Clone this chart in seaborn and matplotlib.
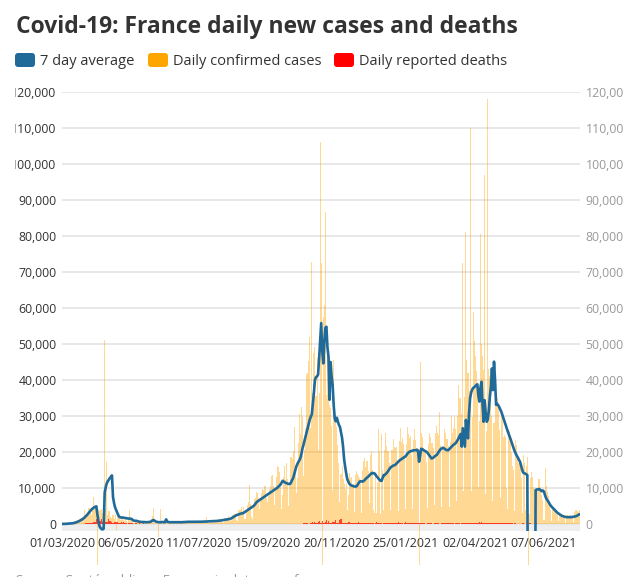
import matplotlib
matplotlib.use("Agg")
import matplotlib.pyplot as plt
import matplotlib.patches as mpatches
from matplotlib.transforms import IdentityTransform, Bbox, TransformedBbox
from matplotlib.ticker import FuncFormatter
import pandas as pd
import seaborn as sns

# Daily series starting 01/03/2020 (one value per day), cases/avg in thousands
avg_7day = [
    # Mar 2020
    0.02, 0.02, 0.03, 0.04, 0.05, 0.07, 0.09, 0.11, 0.13, 0.16, 0.2, 0.25, 0.3, 0.4, 0.5, 0.62,
    0.75, 0.9, 1.05, 1.2, 1.4, 1.65, 1.9, 2.2, 2.5, 2.85, 3.2, 3.55, 3.9, 4.2, 4.45,
    # Apr 2020
    4.65, 4.8, 4.9, 2.6, 0.9, -0.6, -1.1, -1.4, -1.5, -1.3, 8.8, 10.2, 11.3, 11.9, 12.3, 12.8,
    13.1, 13.5, 7.5, 5.8, 4.6, 3.9, 3.2, 2.5, 2.0, 1.85, 1.8, 1.8, 1.75, 1.7,
    # May 2020
    1.65, 1.6, 1.55, 1.5, 1.5, 1.45, 1.4, 1.05, 0.95, 0.9, 0.9, 0.85, 0.75, 0.65, 0.6, 0.6,
    0.55, 0.55, 0.55, 0.5, 0.5, 0.5, 0.55, 0.55, 0.6, 0.8, 1.0, 1.1, 0.9, 0.7, 0.6,
    # Jun 2020
    0.55, 0.5, 0.5, 0.5, 0.55, 0.55, 0.5, 0.5, 1.3, 0.7, 0.55, 0.5, 0.5, 0.5, 0.5, 0.5,
    0.5, 0.5, 0.5, 0.5, 0.5, 0.5, 0.5, 0.5, 0.5, 0.55, 0.55, 0.55, 0.6, 0.6,
    # Jul 2020
    0.6, 0.6, 0.6, 0.6, 0.6, 0.6, 0.6, 0.6, 0.6, 0.6, 0.62, 0.63, 0.65, 0.65, 0.65, 0.65,
    0.68, 0.7, 0.7, 0.72, 0.75, 0.75, 0.78, 0.8, 0.8, 0.82, 0.85, 0.85, 0.88, 0.9, 0.95,
    # Aug 2020
    1.0, 1.05, 1.1, 1.15, 1.2, 1.25, 1.3, 1.35, 1.4, 1.5, 1.65, 1.8, 2.0, 2.2, 2.35, 2.5,
    2.6, 2.7, 2.8, 2.9, 2.95, 3.0, 3.2, 3.4, 3.6, 3.8, 4.0, 4.2, 4.4, 4.6, 4.8,
    # Sep 2020
    5.0, 5.3, 5.7, 6.1, 6.3, 6.5, 6.7, 6.9, 7.1, 7.3, 7.5, 7.7, 7.9, 8.1, 8.3, 8.5,
    8.7, 8.9, 9.1, 9.3, 9.5, 9.7, 9.9, 10.1, 10.4, 10.7, 11.0, 11.5, 12.0, 11.8,
    # Oct 2020
    11.6, 11.4, 11.3, 11.2, 11.1, 11.1, 11.5, 12.2, 12.7, 13.8, 15.0, 15.9, 16.6, 17.2, 17.7, 18.3,
    19.5, 21.0, 22.0, 23.2, 24.4, 25.5, 26.6, 27.8, 29.0, 29.8, 30.5, 33.5, 36.5, 40.0, 40.8,
    # Nov 2020
    41.0, 41.5, 46.0, 51.0, 55.8, 48.0, 44.6, 50.5, 54.5, 54.8, 49.0, 46.5, 34.5, 45.0, 41.0, 38.5,
    33.0, 29.4, 28.5, 29.5, 28.5, 27.5, 27.0, 25.5, 24.0, 21.5, 18.0, 15.9, 14.1, 12.5,
    # Dec 2020
    11.8, 11.2, 10.9, 10.7, 10.6, 10.5, 10.4, 10.4, 10.5, 10.9, 11.4, 11.8, 11.9, 11.8, 11.8, 12.0,
    12.3, 12.6, 12.9, 13.1, 13.4, 13.7, 14.0, 14.2, 14.1, 14.1, 13.8, 13.3, 13.0, 12.6, 12.3,
    # Jan 2021
    12.0, 12.0, 12.8, 13.6, 13.6, 13.9, 14.2, 14.6, 15.0, 15.5, 15.8, 16.0, 16.2, 16.3, 16.4, 16.7,
    17.0, 17.3, 17.6, 17.8, 18.0, 18.2, 18.4, 18.6, 18.8, 19.2, 19.6, 19.9, 20.1, 20.2, 20.3,
    # Feb 2021
    20.4, 20.5, 20.5, 20.5, 20.6, 20.4, 17.3, 19.0, 20.9, 20.8, 20.6, 20.4, 20.2, 20.1, 19.8, 19.4,
    19.0, 18.6, 18.2, 18.3, 18.5, 18.8, 19.0, 19.2, 19.6, 20.1, 20.5, 20.9,
    # Mar 2021
    21.0, 21.2, 21.0, 20.8, 20.6, 20.5, 20.5, 20.8, 21.1, 21.4, 21.7, 22.0, 22.2, 22.4, 22.8, 23.3,
    23.9, 24.5, 25.0, 21.5, 26.6, 24.0, 21.5, 28.9, 26.0, 23.8, 30.5, 34.9, 36.5, 37.3, 37.8,
    # Apr 2021
    38.0, 38.3, 38.6, 38.8, 35.5, 34.0, 38.0, 39.5, 33.0, 28.4, 34.4, 31.0, 28.4, 29.0, 31.5, 35.4,
    38.0, 43.2, 37.2, 45.1, 40.0, 33.1, 33.4, 33.0, 32.5, 31.8, 31.2, 30.3, 29.4, 28.4,
    # May 2021
    27.5, 26.7, 25.9, 25.1, 24.3, 23.5, 22.6, 21.7, 20.9, 20.1, 19.5, 18.9, 18.4, 17.8, 17.3, 16.2,
    15.1, 14.3, 14.1, 14.0, 13.8, 13.6, -51, -51, -51, -51, -51, -51, -51, 9.4, 9.6,
    # Jun 2021
    9.6, 9.7, 9.6, 9.3, 9.1, 9.3, 9.0, 8.0, 7.2, 6.7, 6.3, 5.8, 5.3, 4.9, 4.6, 4.3,
    4.0, 3.7, 3.4, 3.1, 2.9, 2.7, 2.5, 2.3, 2.2, 2.1, 2.0, 1.95, 1.9, 1.9,
    # Jul 2021
    1.9, 1.9, 1.9, 1.95, 2.0, 2.05, 2.1, 2.2, 2.35, 2.5, 2.7,
]

daily_cases = [
    # Mar 2020
    0.03, 0.04, 0.02, 0.07, 0.06, 0.1, 0.3, 0.08, 0.1, 0.3, 0.5, 0.6, 0.8, 0.8, 0.9, 1.2,
    0.5, 1.4, 1.6, 1.6, 1.8, 1.8, 3.8, 2.4, 2.5, 4.5, 4.5, 3.8, 2.6, 4.4, 7.6,
    # Apr 2020
    5.0, 4.3, 5.2, -11.4, 4.0, 3.5, 3.8, 4.3, 3.0, 2.7, 51.0, 4.2, 17.3, 2.5, 3.7, 3.5,
    2.0, 1.6, 2.4, 1.3, 2.8, -1.8, 2.2, 1.6, 1.7, 1.1, 1.4, 1.5, 1.0, 0.9,
    # May 2020
    1.4, 0.9, 0.6, 1.3, 3.9, 1.1, 0.9, 0.6, 0.4, 0.5, 1.0, 0.8, 0.7, 0.6, 0.3, 0.5,
    0.7, 0.5, 0.6, 0.5, 0.3, 0.2, 0.4, 0.6, 0.5, 1.4, 2.2, 4.4, 0.4, 0.3, 0.4,
    # Jun 2020
    0.3, -3.5, 0.6, 4.2, 0.6, 0.5, 0.4, 0.3, 1.0, 0.5, 0.4, 0.6, 0.5, 0.4, 0.3, 0.2,
    0.5, 0.5, 0.6, 0.4, 0.3, 0.3, 0.6, 0.7, 0.6, 0.7, 0.5, 0.3, 0.4, 0.8,
    # Jul 2020
    0.5, 0.8, 0.7, 0.6, 0.6, 0.5, 0.3, 0.7, 0.8, 0.9, 0.7, 0.6, 0.4, 0.4, 0.8, 0.7,
    0.9, 2.0, 0.6, 0.4, 0.3, 1.0, 1.1, 1.0, 0.9, 0.7, 0.5, 0.6, 1.4, 1.3, 1.4,
    # Aug 2020
    1.3, 0.5, 0.4, 1.6, 1.7, 1.6, 1.6, 2.2, 1.0, 0.8, 1.4, 2.5, 2.6, 2.8, 2.9, 1.0,
    0.9, 3.8, 3.8, 4.8, 3.6, 4.6, 1.4, 1.5, 3.3, 5.4, 6.1, 10.8, 5.5, 2.0, 1.4,
    # Sep 2020
    5.0, 7.0, 7.2, 8.9, 8.5, 7.1, 4.2, 6.5, 8.6, 9.8, 9.4, 10.6, 7.2, 6.2, 7.9, 9.8,
    10.6, 13.2, 13.5, 10.6, 5.3, 10.0, 13.1, 16.1, 15.8, 14.4, 11.1, 4.1, 8.0, 13.0,
    # Oct 2020
    16.1, 12.1, 17.0, 12.6, 5.1, 10.5, 18.7, 18.1, 20.3, 26.9, 16.1, 8.5, 12.9, 22.6, 30.6, 25.1,
    32.4, 29.8, 13.2, 20.5, 26.7, 41.6, 42.0, 45.4, 52.0, 26.8, 72.9, 36.4, 47.6, 49.2, 35.6,
    # Nov 2020
    46.0, 20.5, 36.3, 106.0, 72.4, -11.4, 57.6, 60.8, 86.6, 35.9, 49.9, 45.0, 33.0, 32.1, 27.2, 9.4,
    45.5, 31.0, 28.0, 27.0, 22.0, 17.0, 6.0, 14.0, 16.0, 12.5, 11.0, 9.8, 11.0, 4.0,
    # Dec 2020
    8.0, 14.1, 12.7, 13.0, 11.2, 11.1, 3.4, 13.7, 14.6, 13.8, 13.4, 12.9, 11.5, 3.1, 14.9, 17.6,
    18.3, 15.7, 17.6, 14.7, 5.9, 19.3, 20.3, 15.0, 4.0, 3.1, 13.6, 3.1, 11.4, 26.5, 20.3,
    # Jan 2021
    2.9, 24.9, 15.1, 4.0, 20.5, 25.4, 21.7, 20.2, 20.2, 16.9, 3.8, 20.5, 23.6, 21.3, 21.2, 21.4,
    16.6, 3.7, 23.0, 26.8, 22.8, 23.9, 22.1, 18.3, 4.2, 22.1, 26.9, 25.0, 23.8, 24.4, 19.2,
    # Feb 2021
    4.3, 23.3, 26.4, 23.4, 21.0, 20.6, -11.4, 45.0, 25.4, 24.1, 21.0, 20.7, 19.8, 17.3, 4.4, 22.2,
    25.3, 24.1, 22.5, 22.4, 21.2, 5.4, 25.3, 27.3, 25.4, 24.8, 31.2, 22.0,
    # Mar 2021
    4.6, 20.6, 26.3, 25.3, 23.5, 23.5, 21.8, 4.7, 22.9, 29.9, 25.2, 26.8, 29.8, 26.4, 6.5, 29.9,
    38.5, 34.9, 35.1, 30.6, 72.6, 9.1, 35.4, 81.0, 45.6, 41.9, 37.0, 109.9, 9.1, 29.6, 59.0,
    # Apr 2021
    50.7, 46.7, 42.6, 37.0, 10.4, 28.5, 80.6, 50.1, 46.8, 42.9, 97.0, 8.3, 25.7, 118.0, 43.1, 41.2,
    35.9, 30.0, 6.3, 28.0, 38.2, 35.1, 34.9, 32.3, 26.0, 7.1, 30.3, 30.1, 24.3, 24.8,
    # May 2021
    24.3, 9.9, 4.1, 26.0, 25.7, 23.8, 19.9, 16.0, 14.9, 3.6, 23.3, 21.9, 19.2, 17.0, 15.6, 12.9,
    3.0, 19.3, 17.0, 3.8, 16.2, 18.7, -11.4, 2.7, 12.8, 14.5, 13.1, 10.4, 9.6, 8.5, 1.8,
    # Jun 2021
    9.2, 12.5, 12.6, 10.3, 8.0, 6.8, 1.2, 15.5, 10.5, 9.0, 7.9, 6.5, 3.9, 0.8, 4.1, 4.1,
    3.7, 3.3, 2.8, 2.5, 0.7, 2.9, 2.8, 2.3, 2.3, 1.9, 1.7, 0.4, 2.4, 2.4,
    # Jul 2021
    2.2, 2.4, 2.2, 1.8, 0.6, 3.2, 3.8, 3.9, 3.5, 3.4, 4.0,
]

daily_deaths = [
    # Mar 2020
    0, 0, 0, 1, 1, 2, 2, 1, 3, 6, 10, 15, 13, 18, 12, 36, 21, 27, 69, 128, 78, 112, 112, 186,
    240, 231, 365, 299, 319, 292, 418,
    # Apr 2020
    499, 509, 1355, 1120, 1053, 518, 833, 1417, 541, 1341, 987, 635, 561, 574, 1438, 753, 761,
    642, 395, 547, 531, 544, 516, 389, 369, 242, 437, 367, 427, 289,
    # May 2020
    218, 166, 135, 306, 330, 278, 178, 243, 80, 70, 263, 348, 83, 351, 104, 96, 125, 483, 131,
    66, 83, 74, 43, 35, 65, 90, 98, 52, 57, 52, 31,
    # Jun 2020
    31, 107, 81, 44, 46, 27, 13, 18, 24, 111, 27, 28, 24, 10, 4, 29, 28, 28, 14, 61, 24, 31,
    12, 14, 21, 11, 12, 23, 29, 18,
    # Jul 2020
    14, 16, 14, 25, 7, 10, 14, 13, 14, 11, 25, 12, 6, 10, 4, 18, 10, 9, 12, 6, 5, 14, 11, 5,
    11, 0, 7, 18, 14, 11, 12,
    # Aug 2020
    7, 5, 3, 12, 14, 10, 10, 8, 6, 11, 12, 15, 17, 14, 12, 10, 11, 20, 15, 17, 14, 12, 9, 11,
    15, 14, 16, 15, 18, 11, 17,
    # Sep 2020
    26, 30, 35, 25, 12, 7, 22, 33, 44, 51, 47, 27, 16, 30, 40, 46, 61, 64, 26, 21, 33, 62, 80,
    78, 52, 38, 29, 49, 85, 63,
    # Oct 2020
    62, 50, 76, 65, 17, 85, 80, 70, 78, 54, 29, 48, 98, 104, 88, 95, 118, 96, 146, 162, 163,
    169, 165, 137, 116, 146, 257, 523, 235, 545, 231,
    # Nov 2020
    299, 418, 854, 385, 361, 828, 306, 271, 551, 1219, 328, 932, 354, 302, 341, 508, 437, 428,
    1138, 264, 276, 237, 1011, 1290, 406, 374, 390, 215, 188, 240,
    # Dec 2020
    418, 540, 311, 293, 295, 172, 363, 401, 292, 370, 627, 261, 150, 175, 397, 294, 236, 230,
    166, 163, 393, 349, 381, 211, 159, 138, 169, 437, 365, 326, 359,
    # Jan 2021
    170, 159, 116, 396, 350, 397, 297, 161, 170, 160, 372, 333, 271, 212, 169, 141, 171, 451,
    318, 315, 273, 186, 131, 172, 451, 352, 298, 292, 182, 148, 213,
    # Feb 2021
    382, 406, 325, 282, 207, 154, 166, 416, 344, 293, 233, 175, 136, 129, 339, 405, 326, 257,
    217, 138, 130, 301, 281, 210, 220, 179, 128, 125,
    # Mar 2021
    375, 373, 306, 209, 185, 158, 345, 374, 323, 222, 208, 173, 133, 372, 343, 258, 193, 171,
    112, 394, 349, 255, 242, 177, 174, 399, 381, 321, 228, 183, 391,
    # Apr 2021
    304, 308, 212, 205, 352, 437, 367, 442, 298, 230, 192, 406, 390, 301, 328, 298, 178, 174,
    395, 316, 300, 311, 291, 190, 196, 394, 263, 324, 299, 189,
    # May 2021
    202, 152, 322, 210, 243, 234, 158, 141, 105, 322, 214, 138, 131, 120, 81, 85, 234, 155,
    111, 70, 86, 76, 60, 148, 149, 114, 105, 93, 75, 50, 152,
    # Jun 2021
    71, 68, 57, 59, 37, 25, 66, 68, 65, 45, 36, 17, 20, 56, 42, 38, 39, 25, 12, 31, 33, 30,
    23, 24, 17, 14, 28, 22, 24, 18,
    # Jul 2021
    18, 19, 12, 7, 27, 22, 24, 16, 13, 11, 8,
]

start_date = "2020-03-01"
x_tick_labels = ["01/03/2020", "06/05/2020", "11/07/2020", "15/09/2020",
                 "20/11/2020", "25/01/2021", "02/04/2021", "07/06/2021"]
y_ticks = list(range(0, 120001, 10000))

title = "Covid-19: France daily new cases and deaths"
legend_labels = ["7 day average", "Daily confirmed cases", "Daily reported deaths"]
legend_colors = ["#1f6a99", "#FFA500", "#FF0000"]

df = pd.DataFrame({
    "date": pd.date_range(start_date, periods=len(daily_cases), freq="D"),
    "cases": [v * 1000 for v in daily_cases],
    "avg": [v * 1000 for v in avg_7day],
    "deaths": daily_deaths,
})
df["day"] = (df["date"] - df["date"].iloc[0]).dt.days
tick_days = [(pd.to_datetime(t, dayfirst=True) - df["date"].iloc[0]).days for t in x_tick_labels]

sns.set_theme(style="white")
plt.rcParams["font.family"] = ["Open Sans", "DejaVu Sans"]

W, H = 641, 577
fig = plt.figure(figsize=(W / 100, H / 100), dpi=100)
ax = fig.add_axes([62 / W, 1 - 531.2 / H, 518 / W, 439.2 / H])

ax.axhspan(-2000, 0, color="#eeeeee", lw=0, zorder=0)
ax.bar(df["day"], df["cases"], width=1.0, color="#FFA500", alpha=0.42,
       linewidth=0, clip_on=False, zorder=1)
ax.bar(df["day"], df["deaths"], width=1.0, color="#FF0000", alpha=0.7,
       linewidth=0, zorder=2)
sns.lineplot(data=df, x="day", y="avg", ax=ax, color="#1f6a99", linewidth=1.9, zorder=3)

ax.set_xlim(0, 497.6)
ax.set_ylim(-2000, 120000)
ax.set_xlabel("")
ax.set_ylabel("")
ax.yaxis.grid(True, color="#e6e6e6", linewidth=1.3)
ax.set_axisbelow(True)
for s in ax.spines.values():
    s.set_visible(False)

fmt = FuncFormatter(lambda v, p: f"{int(v):,}")
ax.set_xticks(tick_days)
ax.set_xticklabels(x_tick_labels)
ax.set_yticks(y_ticks)
ax.yaxis.set_major_formatter(fmt)
ax.tick_params(axis="x", length=0, pad=4, labelsize=9, labelcolor="#333333")
ax.tick_params(axis="y", length=0, pad=4, labelsize=8.8, labelcolor="#333333")

ax2 = ax.twinx()
ax2.set_ylim(ax.get_ylim())
ax2.set_yticks(y_ticks)
ax2.yaxis.set_major_formatter(fmt)
ax2.tick_params(axis="y", length=0, pad=4, labelsize=8.8, labelcolor="#999999")
ax2.grid(False)
for s in ax2.spines.values():
    s.set_visible(False)

# the chart container cuts the tick labels near both edges
clip = TransformedBbox(Bbox([[14.5, 0], [623, H]]), IdentityTransform())
for t in ax.yaxis.get_major_ticks() + ax2.yaxis.get_major_ticks():
    for lab in (t.label1, t.label2):
        lab.set_clip_box(clip)
        lab.set_clip_on(True)

fig.text(16 / W, 1 - 33 / H, title, fontsize=16.5, fontweight="bold",
         color="#333333", va="baseline")

# legend: rounded colour chips + labels
chip_x = [15, 148, 334]
text_x = [40, 173, 359]
for cx, tx, lab, col in zip(chip_x, text_x, legend_labels, legend_colors):
    chip = mpatches.FancyBboxPatch((cx, H - 67), 20, 14,
                                   boxstyle="round,pad=0,rounding_size=3",
                                   facecolor=col, edgecolor="none",
                                   transform=IdentityTransform())
    fig.add_artist(chip)
    fig.text(tx / W, 1 - 65 / H, lab, fontsize=10.5, color="#333333", va="baseline")

fig.text(16 / W, 3 / H, "Source: Santé publique France via data.gouv.fr",
         fontsize=9.5, color="#999999", va="top")

fig.savefig("out.png", dpi=100)
